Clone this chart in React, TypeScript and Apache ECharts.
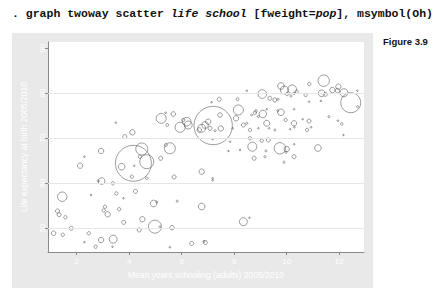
import React, { useEffect, useRef } from "react";
import * as echarts from "echarts";

// Mean years schooling (adults) 2005/2010
const schooling = [
  3.49, 4.12, 3.83, 2.93, 5.22, 5.68, 5.39, 5.45, 5.94, 6.19, 6.25, 6.06, 7.2, 6.76, 6.89, 7.01, 6.67, 7.08, 7.46, 7.49,
  7.43, 7.14, 7.27, 7.18, 8.16, 8.13, 8.07, 8.48, 8.35, 7.94, 8.6, 8.6, 8.48, 8.67, 8.83, 8.92, 9.07, 9.36, 9.55, 9.67,
  9.78, 9.91, 10.02, 10.21, 10.28, 10.38, 10.16, 10.86, 10.72, 10.85, 11.41, 11.33, 11.47, 11.3, 11.74, 11.97, 11.94, 12.18, 12.44, 12.69,
  12.7, 8.79, 9.09, 9.24, 9.24, 9.33, 8.92, 9.78, 9.66, 9.96, 10.28, 10.28, 10.29, 10.13, 10.61, 10.85, 10.93, 10.78, 11.61, 11.95,
  12.1, 12.16, 9.55, 8.69, 8.76, 9.05, 9.3, 9.74, 10.0, 10.28, 9.9, 9.97, 9.21, 10.28, 11.19, 8.22, 7.84, 7.78, 9.17, 4.48,
  4.16, 4.67, 3.71, 4.19, 4.41, 4.1, 4.67, 2.95, 2.82, 3.38, 2.13, 2.29, 1.45, 2.54, 3.51, 3.78, 4.24, 4.93, 5.05, 5.83,
  6.76, 3.08, 3.03, 3.18, 3.62, 1.27, 1.33, 1.57, 1.79, 1.12, 1.47, 2.46, 2.29, 2.72, 2.93, 3.39, 3.36, 3.79, 4.5, 4.38,
  4.98, 5.17, 5.63, 5.55, 6.38, 6.9, 6.85, 8.35, 8.58, 5.71, 6.76, 7.18, 7.18, 5.2, 5.55, 5.4,
];

// Life expectancy at birth 2005/2010
const lifeExp = [
  73.47, 71.33, 70.36, 67.18, 74.44, 75.4, 75.69, 72.96, 72.44, 73.69, 72.96, 74.07, 72.84, 72.22, 72.96, 73.69, 71.84, 72.22, 75.18, 72.18,
  78.67, 78.0, 71.69, 69.78, 76.29, 78.67, 74.44, 80.58, 72.96, 72.22, 71.84, 70.0, 73.33, 75.18, 76.07, 74.8, 79.84, 78.89, 78.51, 78.67,
  81.62, 80.73, 79.84, 80.89, 80.0, 80.36, 79.4, 82.07, 79.62, 78.13, 82.8, 80.0, 79.78, 78.29, 80.73, 81.47, 80.58, 80.13, 77.91, 80.58,
  77.02, 75.69, 75.4, 76.44, 73.33, 72.22, 72.22, 75.78, 76.13, 74.07, 76.44, 73.33, 72.44, 72.0, 74.22, 73.84, 72.44, 71.84, 74.8, 73.91,
  73.18, 70.73, 71.84, 68.13, 65.56, 69.47, 69.62, 67.78, 67.62, 65.91, 64.67, 66.89, 67.18, 68.67, 67.84, 67.4, 69.24, 67.18, 65.91, 67.62,
  64.44, 64.8, 63.69, 63.91, 65.91, 61.47, 61.11, 60.51, 60.51, 60.0, 63.91, 65.91, 57.02, 57.4, 57.73, 56.67, 58.22, 55.51, 55.84, 56.02,
  54.84, 54.8, 53.96, 53.11, 54.24, 53.84, 53.02, 52.44, 50.0, 48.89, 48.56, 48.89, 46.91, 45.91, 47.4, 47.58, 45.91, 51.33, 52.02, 49.62,
  50.36, 50.36, 50.13, 45.78, 46.62, 46.84, 47.07, 51.47, 52.36, 61.4, 62.58, 61.11, 60.67, 65.56, 67.78, 68.51,
];

// Population (frequency weight, millions)
const population = [
  2, 26, 15, 26, 91, 19, 2, 8, 91, 67, 58, 10, 1330, 58, 40, 26, 19, 15, 19, 26,
  15, 2, 4, 2, 91, 8, 26, 2, 15, 2, 10, 10, 4, 4, 6, 4, 67, 15, 15, 4,
  40, 58, 10, 67, 5, 10, 4, 10, 10, 2, 118, 40, 15, 2, 26, 26, 19, 58, 363, 2,
  4, 10, 50, 2, 33, 2, 2, 40, 4, 10, 2, 26, 2, 2, 2, 15, 2, 10, 4, 2,
  6, 2, 4, 74, 15, 10, 15, 118, 26, 15, 4, 4, 4, 2, 40, 2, 2, 2, 4, 131,
  1170, 178, 40, 2, 10, 10, 6, 40, 4, 10, 26, 2, 80, 2, 10, 2, 15, 40, 4, 4,
  40, 10, 10, 26, 10, 15, 15, 10, 15, 19, 10, 10, 2, 10, 26, 58, 2, 15, 26, 15,
  153, 2, 19, 2, 15, 15, 4, 58, 2, 15, 26, 2, 2, 15, 110, 8,
];

const xTicks = [2, 4, 6, 8, 10, 12];
const yTicks = [50, 60, 70, 80, 90];
const yGrid = [50, 60, 70, 80];

const SANS = "'Liberation Sans', Arial, sans-serif";
const MONO = "'Liberation Mono', 'Courier New', monospace";

export default function App() {
  const ref = useRef<HTMLDivElement>(null);
  useEffect(() => {
    if (!ref.current) return;
    const chart = echarts.init(ref.current, undefined, { renderer: "svg" });
    const data = schooling.map((s, i) => [s, lifeExp[i], population[i]]);
    chart.setOption({
      animation: false,
      backgroundColor: "#ffffff",
      graphic: [
        {
          type: "rect",
          z: -1,
          shape: { x: 12, y: 33, width: 361, height: 255 },
          style: { fill: "#e9e9e9" },
          silent: true,
        },
        {
          type: "text",
          x: 12,
          y: 13,
          style: {
            text: "{b|. graph twoway scatter }{i|life school}{b| [fweight=}{i|pop}{b|], msymbol(Oh)}",
            verticalAlign: "middle",
            rich: {
              b: { fontFamily: MONO, fontWeight: "bold", fontSize: 11.5, fill: "#111" },
              i: { fontFamily: MONO, fontWeight: "bold", fontStyle: "italic", fontSize: 11.5, fill: "#111" },
            },
          },
        },
        {
          type: "text",
          x: 383,
          y: 41,
          style: {
            text: "Figure 3.9",
            fontFamily: SANS,
            fontWeight: "bold",
            fontSize: 9.5,
            fill: "#111",
            verticalAlign: "middle",
          },
        },
      ],
      grid: {
        left: 48,
        top: 42,
        width: 316,
        height: 210,
        show: true,
        backgroundColor: "#ffffff",
        borderWidth: 0,
      },
      xAxis: {
        type: "value",
        min: 0.907,
        max: 12.945,
        name: "Mean years schooling (adults) 2005/2010",
        nameLocation: "middle",
        nameGap: 18,
        nameTextStyle: { color: "#ffffff", fontSize: 8.5, fontFamily: SANS },
        axisLine: { show: true, onZero: false, lineStyle: { color: "#8a8a8a", width: 1 } },
        axisTick: { show: true, customValues: xTicks, length: 3, lineStyle: { color: "#8a8a8a" } },
        axisLabel: { customValues: xTicks, color: "#ffffff", fontSize: 8, fontFamily: SANS, margin: 5 },
        splitLine: { show: false },
      },
      yAxis: {
        type: "value",
        min: 44.73,
        max: 91.4,
        name: "Life expectancy at birth 2005/2010",
        nameLocation: "middle",
        nameGap: 20,
        nameRotate: 90,
        nameTextStyle: { color: "#ffffff", fontSize: 8.5, fontFamily: SANS },
        axisLine: { show: true, onZero: false, lineStyle: { color: "#8a8a8a", width: 1 } },
        axisTick: { show: true, customValues: yTicks, length: 3, lineStyle: { color: "#8a8a8a" } },
        axisLabel: { customValues: yTicks, color: "#ffffff", fontSize: 8, fontFamily: SANS, margin: 2, rotate: 90 },
        splitLine: { show: false },
      },
      series: [
        {
          type: "scatter",
          data,
          symbol: "circle",
          symbolSize: (v: number[]) => 1.05 * Math.sqrt(v[2]),
          itemStyle: { color: "rgba(0,0,0,0)", borderColor: "#4f4f4f", borderWidth: 0.7 },
          silent: true,
          markLine: {
            silent: true,
            symbol: ["none", "none"],
            label: { show: false },
            lineStyle: { color: "#e6e6e6", width: 1, type: "solid" },
            data: yGrid.map((v) => ({ yAxis: v })),
          },
        },
      ],
    });
    return () => chart.dispose();
  }, []);
  return (
    <div
      ref={ref}
      style={{ position: "absolute", left: 0, top: 0, width: 444, height: 295 }}
    />
  );
}
